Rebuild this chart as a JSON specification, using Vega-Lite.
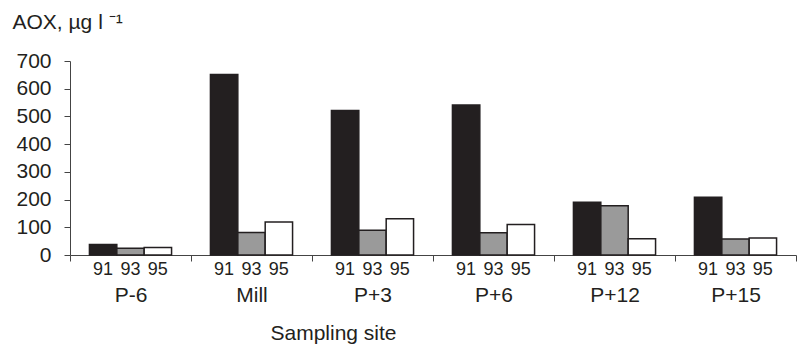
{
  "$schema": "https://vega.github.io/schema/vega-lite/v6.json",
  "width": 726,
  "height": 194,
  "autosize": "none",
  "padding": {"left": 70, "top": 61, "right": 1, "bottom": 94},
  "background": "white",
  "config": {
    "view": {"stroke": null},
    "font": "Liberation Sans",
    "axis": {"labelColor": "#231f20", "titleColor": "#231f20", "titleFontWeight": "normal", "domainColor": "#444", "tickColor": "#444", "labelFont": "Liberation Sans", "titleFont": "Liberation Sans", "labelOverlap": false},
    "axisY": {"labelFontSize": 21, "titleFontSize": 21, "labelPadding": 13, "tickSize": 6, "grid": false, "labelOverlap": false}
  },
  "data": {
    "values": [
      {"site": "P-6", "year": "91", "aox": 38},
      {"site": "P-6", "year": "93", "aox": 24},
      {"site": "P-6", "year": "95", "aox": 27},
      {"site": "Mill", "year": "91", "aox": 651},
      {"site": "Mill", "year": "93", "aox": 81},
      {"site": "Mill", "year": "95", "aox": 119},
      {"site": "P+3", "year": "91", "aox": 521},
      {"site": "P+3", "year": "93", "aox": 89},
      {"site": "P+3", "year": "95", "aox": 131},
      {"site": "P+6", "year": "91", "aox": 541},
      {"site": "P+6", "year": "93", "aox": 80},
      {"site": "P+6", "year": "95", "aox": 110},
      {"site": "P+12", "year": "91", "aox": 190},
      {"site": "P+12", "year": "93", "aox": 178},
      {"site": "P+12", "year": "95", "aox": 59},
      {"site": "P+15", "year": "91", "aox": 208},
      {"site": "P+15", "year": "93", "aox": 58},
      {"site": "P+15", "year": "95", "aox": 61}
    ]
  },
  "encoding": {
    "x": {
      "field": "site",
      "type": "nominal",
      "sort": ["P-6", "Mill", "P+3", "P+6", "P+12", "P+15"],
      "scale": {"paddingInner": 0, "paddingOuter": 0},
      "axis": {
        "title": "Sampling site",
        "titleFontSize": 21,
        "titleX": 263,
        "titleY": 78,
        "titleBaseline": "middle",
        "labelFontSize": 21,
        "labelAngle": 0,
        "labelPadding": 23,
        "tickBand": "extent",
        "tickSize": 6,
        "domainWidth": 1
      }
    },
    "xOffset": {
      "field": "year",
      "type": "nominal",
      "sort": ["91", "93", "95"],
      "scale": {"paddingInner": 0, "paddingOuter": 0.71}
    }
  },
  "layer": [
    {
      "mark": {"type": "bar", "stroke": "#231f20", "strokeWidth": 1.5},
      "encoding": {
        "y": {
          "field": "aox",
          "type": "quantitative",
          "scale": {"domain": [0, 700], "nice": false},
          "axis": {
            "values": [0, 100, 200, 300, 400, 500, 600, 700],
            "labelOverlap": false,
            "grid": false,
            "title": "AOX, µg l ⁻¹",
            "titleAngle": 0,
            "titleAlign": "left",
            "titleBaseline": "middle",
            "titleX": -58,
            "titleY": -39,
            "titleFontSize": 21,
            "labelFontSize": 21,
            "labelPadding": 13,
            "tickSize": 6
          }
        },
        "fill": {
          "field": "year",
          "type": "nominal",
          "scale": {"domain": ["91", "93", "95"], "range": ["#231f20", "#9a9a9a", "#ffffff"]},
          "legend": null
        }
      }
    },
    {
      "mark": {"type": "text", "dy": 15, "fontSize": 18, "baseline": "middle", "color": "#231f20", "font": "Liberation Sans"},
      "encoding": {
        "y": {
          "datum": 0,
          "type": "quantitative",
          "axis": {
            "values": [0, 100, 200, 300, 400, 500, 600, 700],
            "labelOverlap": false,
            "grid": false,
            "title": "AOX, µg l ⁻¹",
            "titleAngle": 0,
            "titleAlign": "left",
            "titleBaseline": "middle",
            "titleX": -58,
            "titleY": -39,
            "titleFontSize": 21,
            "labelFontSize": 21,
            "labelPadding": 13,
            "tickSize": 6
          }
        },
        "text": {"field": "year"}
      }
    }
  ]
}
